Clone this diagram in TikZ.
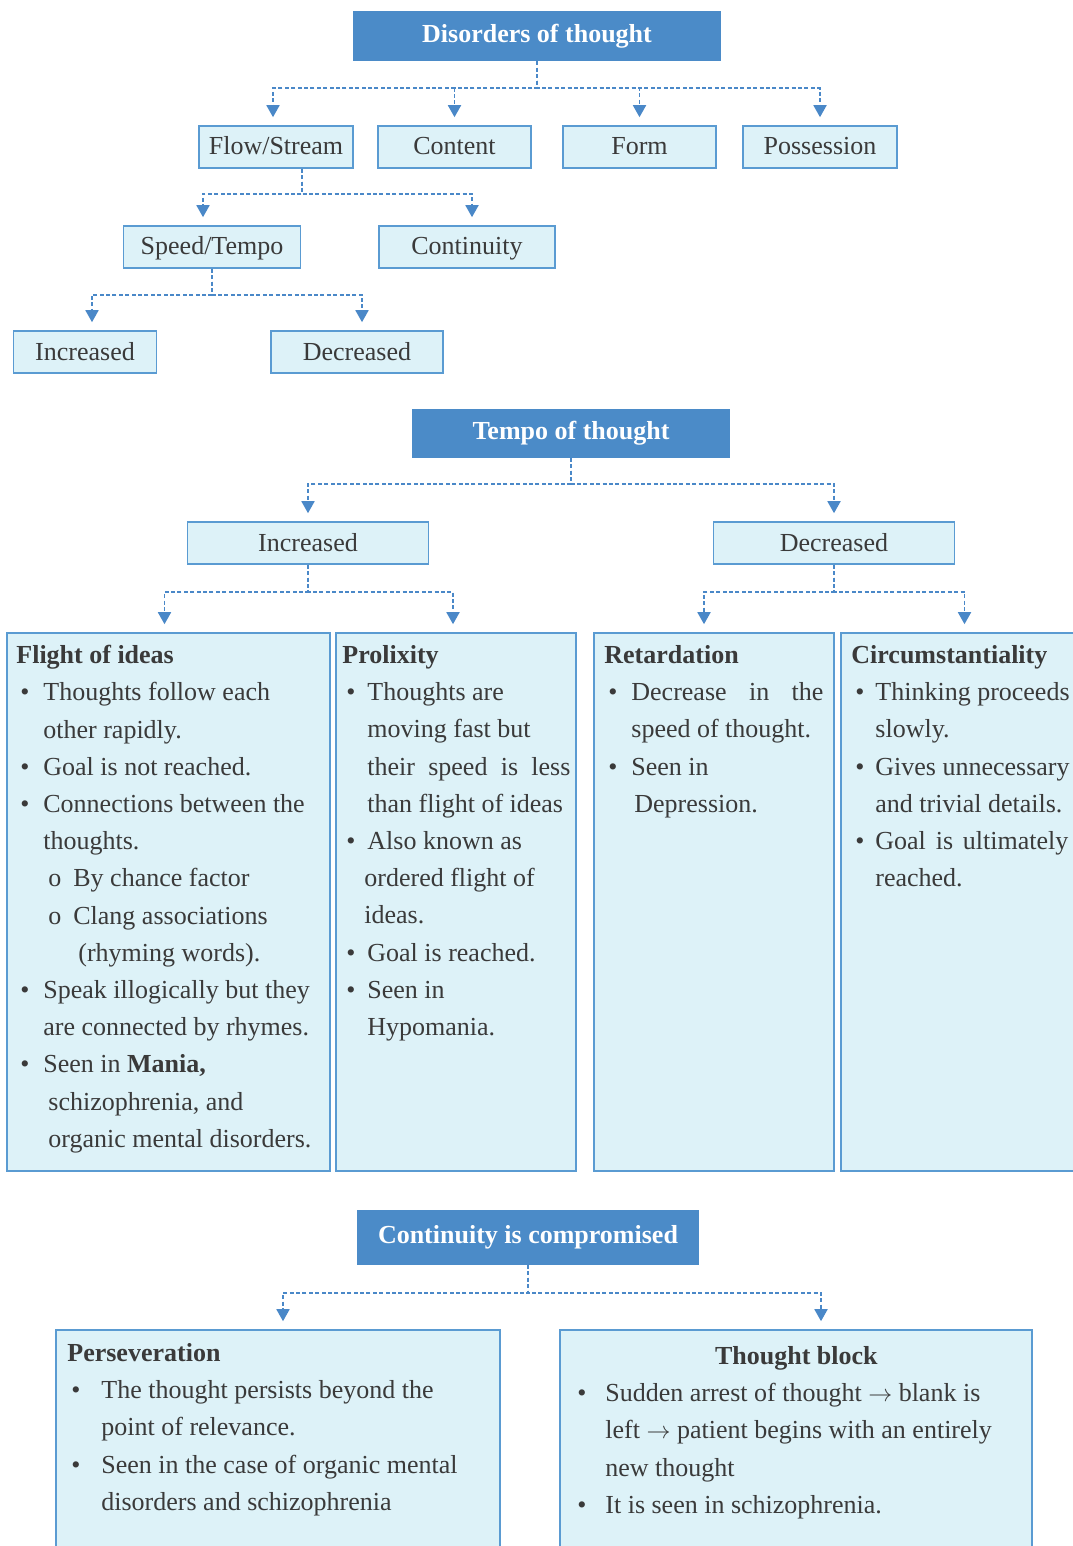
\documentclass[tikz,border=0pt]{standalone}
\usepackage{fontspec}
\setmainfont{Liberation Serif}
\usetikzlibrary{positioning,arrows.meta,fit}
\definecolor{HeadBlue}{HTML}{4B8BC8}
\definecolor{BoxFill}{HTML}{DDF2F8}
\definecolor{BoxLine}{HTML}{5A9BD2}
\definecolor{LinkBlue}{HTML}{4A88C8}
\definecolor{TextGray}{HTML}{3A3A3A}
\newcommand{\bodysize}{\fontsize{13pt}{18.6pt}\selectfont}
\newcommand{\bitem}[1][13.5pt]{\makebox[#1][l]{\hspace*{2pt}\textbullet}}
\newcommand{\bcont}[1][13.5pt]{\hspace*{#1}}
\newcommand{\osub}{\hspace*{16pt}\makebox[12.5pt][l]{o}}

\begin{document}
\begin{tikzpicture}[
  x=0.5pt, y=-0.5pt,
  head/.style={fill=HeadBlue, text=white, font=\bodysize\bfseries, inner sep=0pt},
  box/.style={draw=BoxLine, line width=0.8pt, fill=BoxFill, text=TextGray, font=\bodysize, minimum height=21pt, inner sep=0pt, text height=10pt, text depth=2pt},
  bigbox/.style={draw=BoxLine, line width=0.8pt, fill=BoxFill, inner sep=0pt},
  body/.style={anchor=north west, align=left, inner sep=0pt, text=TextGray, font=\bodysize},
  link/.style={draw=LinkBlue, line width=0.9pt, dash pattern=on 2pt off 1.2pt, -{Triangle[width=6.5pt,length=6pt]}, shorten >=4pt}
]
\useasboundingbox[fill=white] (0,0) rectangle (1072,1546);

% disorders of thought
\node[head, minimum width=184pt, minimum height=25pt] (disorders) at (537,36) {Disorders of thought};
\node[box, minimum width=77pt] (flow) at (276,147) {Flow/Stream};
\node[box, minimum width=76.5pt, right=11.7pt of flow] (content) {Content};
\node[box, minimum width=76.5pt, right=15.2pt of content] (form) {Form};
\node[box, minimum width=77pt, right=12.7pt of form] (possession) {Possession};
\node[box, minimum width=88.5pt] (speed) at (212,247) {Speed/Tempo};
\node[box, minimum width=88pt] (continuity) at (467,247) {Continuity};
\node[box, minimum width=71.5pt] (inc) at (85,352) {Increased};
\node[box, minimum width=86pt] (dec) at (357,352) {Decreased};

\draw[link] (disorders.south) -- ++(0,27) -| ([xshift=-1.5pt]flow.north);
\draw[link] (disorders.south) -- ++(0,27) -| (content.north);
\draw[link] (disorders.south) -- ++(0,27) -| (form.north);
\draw[link] (disorders.south) -- ++(0,27) -| (possession.north);
\draw[link] ([xshift=13pt]flow.south) -- ++(0,25) -| ([xshift=-4.5pt]speed.north);
\draw[link] ([xshift=13pt]flow.south) -- ++(0,25) -| ([xshift=2.5pt]continuity.north);
\draw[link] (speed.south) -- ++(0,26) -| ([xshift=3.5pt]inc.north);
\draw[link] (speed.south) -- ++(0,26) -| ([xshift=2.5pt]dec.north);

% tempo of thought
\node[head, minimum width=159pt, minimum height=24.5pt] (tempo) at (571,433) {Tempo of thought};
\node[box, minimum width=120.5pt] (tinc) at (308,543) {Increased};
\node[box, minimum width=120.5pt] (tdec) at (834,543) {Decreased};
\node[bigbox, fit={(7,633) (330,1171)}] (flight) {};
\node[bigbox, fit={(336,633) (576,1171)}] (prolix) {};
\node[bigbox, fit={(594,633) (834,1171)}] (retard) {};
\node[bigbox, fit={(841,633) (1082,1171)}] (circum) {};

\draw[link] (tempo.south) -- ++(0,26) -| (tinc.north);
\draw[link] (tempo.south) -- ++(0,26) -| (tdec.north);
\draw[link] (tinc.south) -- ++(0,27) -| ([xshift=-2pt]flight.north);
\draw[link] (tinc.south) -- ++(0,27) -| ([xshift=-1.5pt]prolix.north);
\draw[link] (tdec.south) -- ++(0,27) -| ([xshift=-5pt]retard.north);
\draw[link] (tdec.south) -- ++(0,27) -| ([xshift=1.5pt]circum.north);

\node[body] (flighttxt) at (16,645) {\textbf{Flight of ideas}\\
\bitem Thoughts follow each\\
\bcont other rapidly.\\
\bitem Goal is not reached.\\
\bitem Connections between the\\
\bcont thoughts.\\
\osub By chance factor\\
\osub Clang associations\\
\bcont[31pt](rhyming words).\\
\bitem Speak illogically but they\\
\bcont are connected by rhymes.\\
\bitem Seen in \textbf{Mania,}\\
\bcont[16pt]schizophrenia, and\\
\bcont[16pt]organic mental disorders.};

\node[body] (prolixtxt) at (342,645) {\textbf{Prolixity}\\
\bitem[12.5pt]Thoughts are\\
\bcont[12.5pt]moving fast but\\
\bcont[12.5pt]\makebox[101.5pt][s]{their speed is less}\\
\bcont[12.5pt]than flight of ideas\\
\bitem[12.5pt]Also known as\\
\bcont[11pt]ordered flight of\\
\bcont[11pt]ideas.\\
\bitem[12.5pt]Goal is reached.\\
\bitem[12.5pt]Seen in\\
\bcont[12.5pt]Hypomania.};

\node[body] (retardtxt) at (604,645) {\textbf{Retardation}\\
\bitem\makebox[96pt][s]{Decrease in the}\\
\bcont speed of thought.\\
\bitem Seen in\\
\bcont[15pt]Depression.};

\node[body] (circumtxt) at (851,645) {\textbf{Circumstantiality}\\
\bitem[12pt]Thinking proceeds\\
\bcont[12pt]slowly.\\
\bitem[12pt]Gives unnecessary\\
\bcont[12pt]and trivial details.\\
\bitem[12pt]\makebox[96.5pt][s]{Goal is ultimately}\\
\bcont[12pt]reached.};

% continuity is compromised
\node[head, minimum width=171pt, minimum height=27.5pt] (compromised) at (528,1237) {Continuity is compromised};
\node[bigbox, fit={(56,1330) (500,1560)}] (persev) {};
\node[bigbox, fit={(560,1330) (1032,1560)}] (block) {};

\draw[link] (compromised.south) -- ++(0,28) -| ([xshift=2.5pt]persev.north);
\draw[link] (compromised.south) -- ++(0,28) -| ([xshift=12.5pt]block.north);

\node[body] (persevtxt) at (67,1343) {\textbf{Perseveration}\\
\bitem[17pt]The thought persists beyond the\\
\bcont[17pt]point of relevance.\\
\bitem[17pt]Seen in the case of organic mental\\
\bcont[17pt]disorders and schizophrenia};

\node[body] (blocktxt) at (573,1346) {\makebox[223pt][c]{\textbf{Thought block}}\\
\bitem[16pt]Sudden arrest of thought $\rightarrow$ blank is\\
\bcont[16pt]left $\rightarrow$ patient begins with an entirely\\
\bcont[16pt]new thought\\
\bitem[16pt]It is seen in schizophrenia.};
\end{tikzpicture}
\end{document}
